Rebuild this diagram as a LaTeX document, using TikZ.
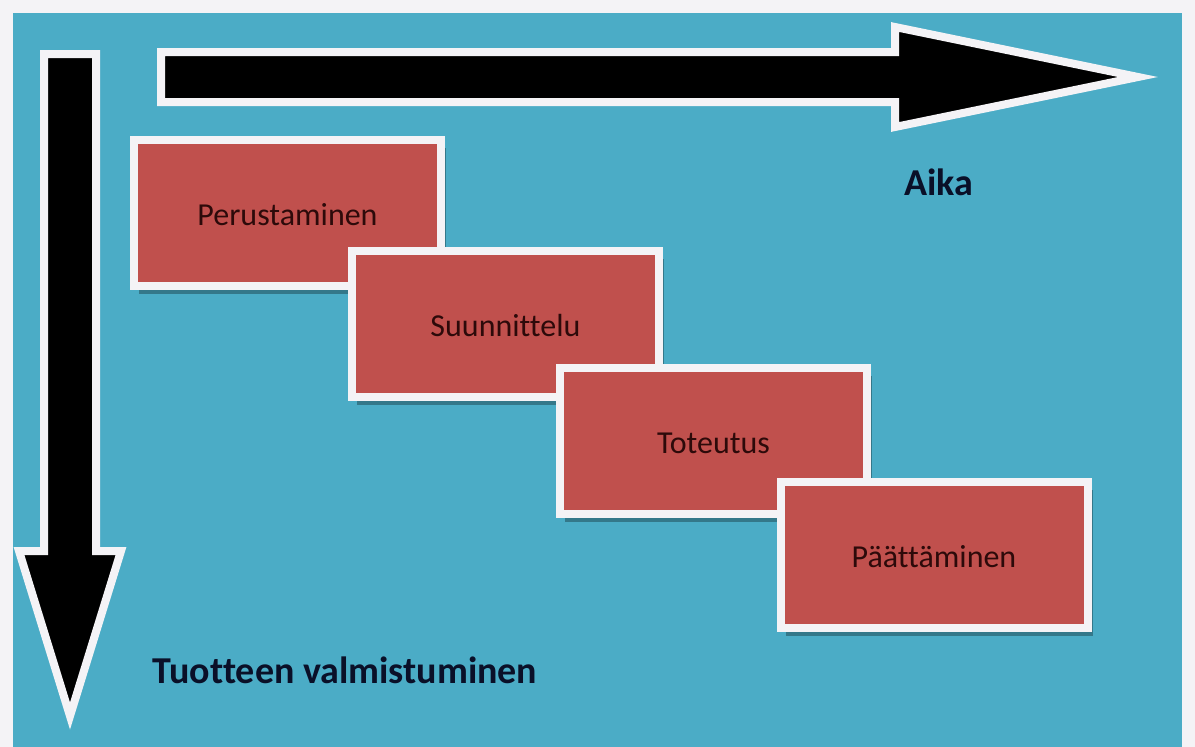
\documentclass[tikz,border=0pt]{standalone}
\usepackage{fontspec}
\setmainfont[Ligatures=NoCommon]{Carlito}
\usetikzlibrary{shadows}

\definecolor{tausta}{RGB}{75,172,198}
\definecolor{laatikko}{RGB}{192,80,77}
\definecolor{reuna}{RGB}{244,243,246}
\definecolor{teksti}{RGB}{45,10,10}
\definecolor{otsikko}{RGB}{10,16,40}

\tikzset{
  vaihe/.style={draw=reuna, fill=laatikko, line width=8pt,
    minimum width=307pt, minimum height=146pt,
    text=teksti, font=\fontsize{32}{38}\selectfont,
    text height=25pt, text depth=0pt,
    drop shadow={shadow xshift=5pt, shadow yshift=-8pt, fill=black, opacity=0.3}},
  nuoli/.style={draw=reuna, fill=black, line width=8pt, miter limit=10},
  otsikko/.style={anchor=base, text=otsikko, font=\bfseries\fontsize{38}{45}\selectfont}
}

\begin{document}
\begin{tikzpicture}[x=1pt,y=-1pt]
    \fill[reuna] (0,0) rectangle (1195,747);
    \useasboundingbox (0,0) rectangle (1195,747);
    \fill[tausta] (13,13) rectangle (1182,747);
    % arrows
    \draw[nuoli] (44,54) -- (96,54) -- (96,551) -- (121,551) -- (70,716) -- (19,551) -- (44,551) -- cycle;
    \draw[nuoli] (161,52) -- (895,52) -- (895,27) -- (1138,77) -- (895,127) -- (895,102) -- (161,102) -- cycle;
    % phases
    \node[vaihe] (P1) at (287.5,212.5) {Perustaminen};
    \node[vaihe] (P2) at (505.5,323.5) {Suunnittelu};
    \node[vaihe] (P3) at (713.5,440.5) {Toteutus};
    \node[vaihe] (P4) at (934,554.5) {Päättäminen};
    \node[otsikko] (aika) at (939,195) {Aika};
    \node[otsikko] (tuote) at (345,683) {Tuotteen valmistuminen};
\end{tikzpicture}
\end{document}
